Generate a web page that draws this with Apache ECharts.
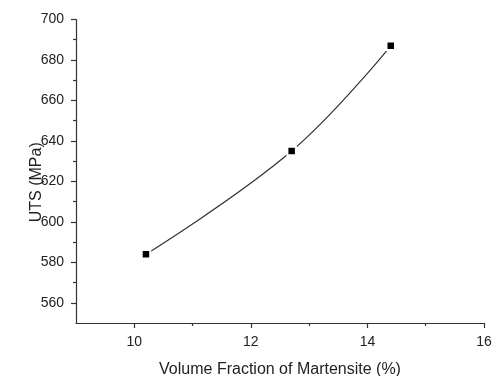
<!DOCTYPE html>
<html>
<head>
<meta charset="utf-8">
<script src="https://cdn.jsdelivr.net/npm/echarts@6/dist/echarts.min.js"></script>
<style>html,body{margin:0;padding:0;background:#fff}#c{width:500px;height:376px}</style>
</head>
<body>
<div id="c"></div>
<script>
const martensite = [10.2, 12.7, 14.4];
const uts = [584, 635, 687];
const xMajorTicks = [10, 12, 14, 16];
const xMinorTicks = [11, 13, 15];
const yMajorTicks = [560, 580, 600, 620, 640, 660, 680, 700];
const yMinorTicks = [570, 590, 610, 630, 650, 670, 690];
const xName = 'Volume Fraction of Martensite (%)';
const yName = 'UTS (MPa)';

const font = 'Liberation Sans, Arial, sans-serif';
const axisColor = '#333';
const chart = echarts.init(document.getElementById('c'), null, {renderer: 'canvas'});
chart.setOption({
  animation: false,
  backgroundColor: '#fff',
  grid: {left: 76, right: 16, top: 19.5, bottom: 53, containLabel: false, outerBoundsMode: 'none'},
  xAxis: [{
    type: 'value', min: 9, max: 16,
    name: xName, nameLocation: 'middle', nameGap: 39,
    nameTextStyle: {fontFamily: font, fontSize: 16, color: '#222'},
    axisLine: {show: true, onZero: false, lineStyle: {color: axisColor, width: 1.2}},
    axisTick: {show: true, inside: false, length: 5, customValues: xMajorTicks, lineStyle: {color: axisColor, width: 1.2}},
    axisLabel: {show: true, margin: 12, customValues: xMajorTicks, fontFamily: font, fontSize: 14, color: '#222'},
    splitLine: {show: false}
  }, {
    type: 'value', min: 9, max: 16, gridIndex: 0, position: 'bottom',
    axisLine: {show: false, onZero: false},
    axisTick: {show: true, inside: false, length: 3, customValues: xMinorTicks, lineStyle: {color: axisColor, width: 1.2}},
    axisLabel: {show: false},
    splitLine: {show: false}
  }],
  yAxis: [{
    type: 'value', min: 550, max: 700,
    name: yName, nameLocation: 'middle', nameGap: 31, nameRotate: 90, nameMoveOverlap: false,
    nameTextStyle: {fontFamily: font, fontSize: 16, color: '#222', padding: [0, 22, 0, 0]},
    axisLine: {show: true, onZero: false, lineStyle: {color: axisColor, width: 1.2}},
    axisTick: {show: true, inside: false, length: 5, customValues: yMajorTicks, lineStyle: {color: axisColor, width: 1.2}},
    axisLabel: {show: true, margin: 12, customValues: yMajorTicks, fontFamily: font, fontSize: 14, color: '#222'},
    splitLine: {show: false}
  }, {
    type: 'value', min: 550, max: 700, position: 'left',
    axisLine: {show: false, onZero: false},
    axisTick: {show: true, inside: false, length: 3, customValues: yMinorTicks, lineStyle: {color: axisColor, width: 1.2}},
    axisLabel: {show: false},
    splitLine: {show: false}
  }],
  series: [{
    type: 'line',
    xAxisIndex: 0, yAxisIndex: 0,
    data: martensite.map((x, i) => [x, uts[i]]),
    smooth: 0.4,
    symbol: 'rect',
    symbolSize: 8.5,
    itemStyle: {color: '#000', borderColor: '#fff', borderWidth: 2},
    lineStyle: {color: '#333', width: 1.2},
    emphasis: {disabled: true}
  }]
});
</script>
</body>
</html>
